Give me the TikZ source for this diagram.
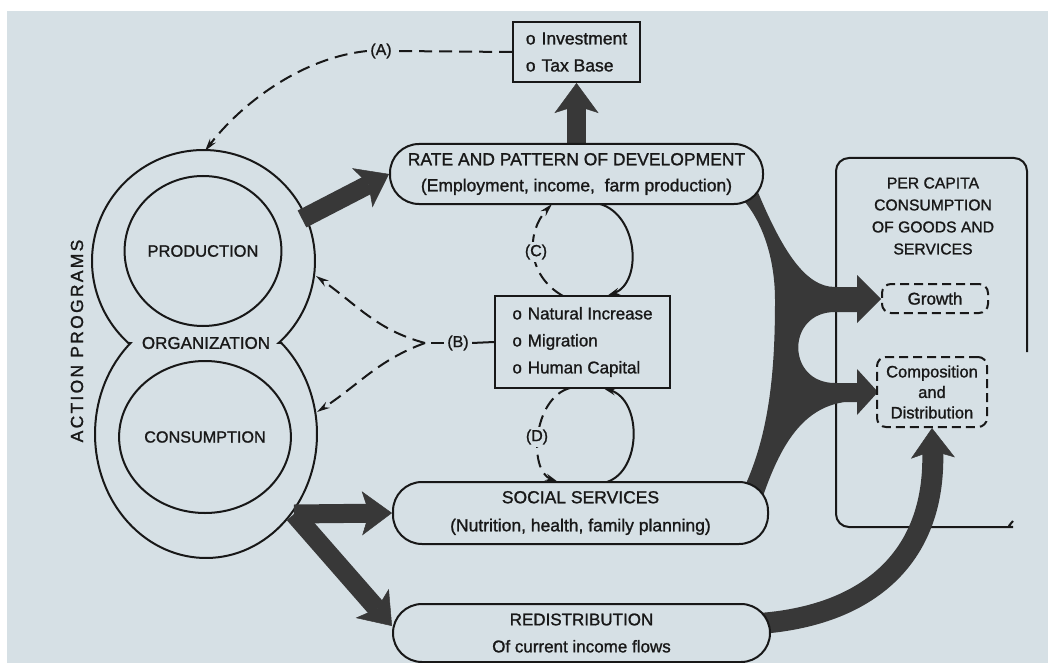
\documentclass[tikz,border=0pt]{standalone}
\usepackage{fontspec}
\setmainfont{Liberation Sans}[RawFeature={embolden=1.2}]
\usetikzlibrary{shapes.geometric,arrows.meta,calc}
\definecolor{bgc}{RGB}{214,224,229}
\definecolor{ink}{RGB}{24,24,24}
\definecolor{thk}{RGB}{56,56,56}
\pgfdeclarelayer{back}
\pgfdeclarelayer{mid}
\pgfsetlayers{back,mid,main}
\newcommand\myfs[2]{\fontsize{#1}{#2}\selectfont}
\begin{document}
\begin{tikzpicture}[x=1pt,y=1pt,
  inkline/.style={draw=ink, line width=2pt},
  lobe/.style={ellipse, draw=ink, line width=2pt, inner sep=0pt, text=ink},
  pill/.style={rectangle, rounded corners=29pt, draw=ink, line width=2pt, fill=bgc, inner sep=0pt, align=center, text=ink},
  listbox/.style={rectangle, draw=ink, line width=2pt, fill=bgc, inner sep=0pt, align=left, text=ink},
  dashbox/.style={rectangle, rounded corners=9pt, draw=ink, line width=2pt, dash pattern=on 9pt off 5pt, inner sep=0pt, align=center, text=ink},
  tag/.style={inner sep=3pt, fill=bgc, text=ink, font=\myfs{16}{18}},
  dline/.style={draw=ink, line width=2pt, dash pattern=on 13pt off 7pt},
  sline/.style={draw=ink, line width=2pt},
  thintip/.style={-{Stealth[length=13pt,width=7pt]}},
  fat/.style={draw=thk, line width=19pt, -{Stealth[length=30pt,width=44pt,inset=7pt,line width=0.5pt]}},
]
\useasboundingbox (0,0) rectangle (1048,-663);
\begin{pgfonlayer}{back}
\fill[white] (0,0) rectangle (1048,-663);
\fill[bgc] (7,-11) rectangle (1048,-663);
\end{pgfonlayer}

% ---- nodes ----
\node[lobe, minimum width=140pt, minimum height=150pt, font=\myfs{16.5}{20}] (prod) at (203,-251) {PRODUCTION};
\node[lobe, minimum width=140pt, minimum height=152pt, font=\myfs{16.2}{20}] (cons) at (205,-437) {CONSUMPTION};
\node[inner sep=0pt, text=ink, font=\myfs{17}{20}] (org) at (206,-343) {ORGANIZATION};
\node[rotate=90, inner sep=0pt, text=ink, font=\myfs{17.5}{20}\addfontfeature{LetterSpace=13}] (act) at (77,-341) {ACTION PROGRAMS};

\node[pill, minimum width=373pt, minimum height=60pt, font=\myfs{17.5}{26}] (rate) at (576.5,-174) {RATE AND PATTERN OF DEVELOPMENT\\(Employment, income,\ \ farm production)};
\node[listbox, minimum width=127pt, minimum height=60pt, font=\myfs{17.5}{27}] (invest) at (576.5,-52) {o\hspace{6pt}Investment\\o\hspace{6pt}Tax Base};
\node[listbox, minimum width=175pt, minimum height=92pt, font=\myfs{17}{27}] (pop) at (582.5,-342) {o\hspace{6pt}Natural Increase\\o\hspace{6pt}Migration\\o\hspace{6pt}Human Capital};
\node[pill, minimum width=375pt, minimum height=62pt, font=\myfs{17.5}{28}] (social) at (580.5,-513) {SOCIAL SERVICES\\(Nutrition, health, family planning)};
\node[pill, minimum width=377pt, minimum height=58pt, font=\myfs{17}{27}] (redis) at (581.5,-633) {REDISTRIBUTION\\Of current income flows};

\node[inner sep=0pt, align=center, text=ink, font=\myfs{15.7}{22}] (percap) at (933,-216) {PER CAPITA\\CONSUMPTION\\OF GOODS AND\\SERVICES};
\node[dashbox, minimum width=106pt, minimum height=29pt, font=\myfs{17}{20}] (growth) at (935,-298.5) {Growth};
\node[dashbox, minimum width=110pt, minimum height=70pt, font=\myfs{16.5}{20.5}] (comp) at (932,-392) {Composition\\and\\Distribution};

\node[tag] (A) at (381,-51) {(A)};
\node[tag] (B) at (458,-343) {(B)};
\node[tag] (C) at (536,-252) {(C)};
\node[tag] (D) at (537,-437) {(D)};

% ---- named points ----
\coordinate (lobeTop) at (205,-151);
\coordinate (jB) at (425,-343);
\coordinate (lobeB1) at (316,-276);
\coordinate (lobeB2) at (317,-412);
\coordinate (upRoot) at (302,-219);
\coordinate (lowRoot) at (294,-514);
\coordinate (redisRoot) at (752,-624);
\coordinate (c1) at (563,-296);
\coordinate (c2) at (552,-204);
\coordinate (c3) at (600,-204);
\coordinate (c4) at (607,-296);
\coordinate (d1) at (570,-388);
\coordinate (d2) at (558,-482);
\coordinate (d3) at (607,-482);
\coordinate (d4) at (603,-388);

\begin{pgfonlayer}{mid}
% organization outline
\draw[inkline] (203.5,-261) ++(-47.6:111.5 and 111)
  arc[start angle=-47.6, end angle=227.6, x radius=111.5, y radius=111]
  -- ([shift={(206,-434)}]132.8:111 and 124)
  arc[start angle=132.8, end angle=407.2, x radius=111, y radius=124] -- cycle;
% per capita box
\draw[inkline, rounded corners=13pt] (1027,-352) -- (1027,-158) -- (836,-158) -- (836,-527) -- (1000,-527)
  .. controls (1006,-527) and (1010,-525) .. (1013,-521);

% thick arrows
\draw[fat] (upRoot) -- (rate.west);
\draw[fat] (rate.north) -- (invest.south);
\draw[fat] (lowRoot) -- (social.west);
\draw[fat] (lowRoot) -- ($(redis.west)+(0,7)$);
\draw[fat, line width=21pt] (redisRoot) .. controls (865,-618) and (936,-560) .. (comp.south);

% big band to growth / composition
\fill[thk] (735,-192)
  .. controls (757,-210) and (775,-250) .. (775,-300)
  .. controls (775,-370) and (770,-440) .. (738,-500)
  -- (760,-505)
  .. controls (778,-450) and (800,-408) .. (845,-402)
  -- (857,-402) -- (857,-415) -- (878,-392) -- (857,-369) -- (857,-383) -- (835,-383)
  .. controls (786,-383) and (786,-312) .. (835,-312)
  -- (857,-312) -- (857,-323) -- (881,-299) -- (857,-275) -- (857,-287) -- (835,-287)
  .. controls (805,-287) and (782,-250) .. (757,-190)
  -- cycle;

% thin connectors
\draw[dline] (invest.west) -- (A.east);
\draw[dline, thintip] (A.west) .. controls (300,-58) and (240,-105) .. (lobeTop);
\draw[sline] (B.east) -- (pop.west);
\draw[dline] (B.west) -- (jB);
\draw[dline, thintip] (jB) to[out=165, in=-35] (lobeB1);
\draw[dline, thintip] (jB) to[out=200, in=33] (lobeB2);
\draw[dline, thintip] (c1) .. controls (526,-275) and (526,-232) .. (c2);
\draw[sline, thintip] (c3) .. controls (638,-215) and (643,-282) .. (c4);
\draw[dline, thintip] (d1) .. controls (533,-398) and (528,-470) .. (d2);
\draw[sline, thintip] (d3) .. controls (642,-470) and (642,-400) .. (d4);
\end{pgfonlayer}
\end{tikzpicture}
\end{document}
